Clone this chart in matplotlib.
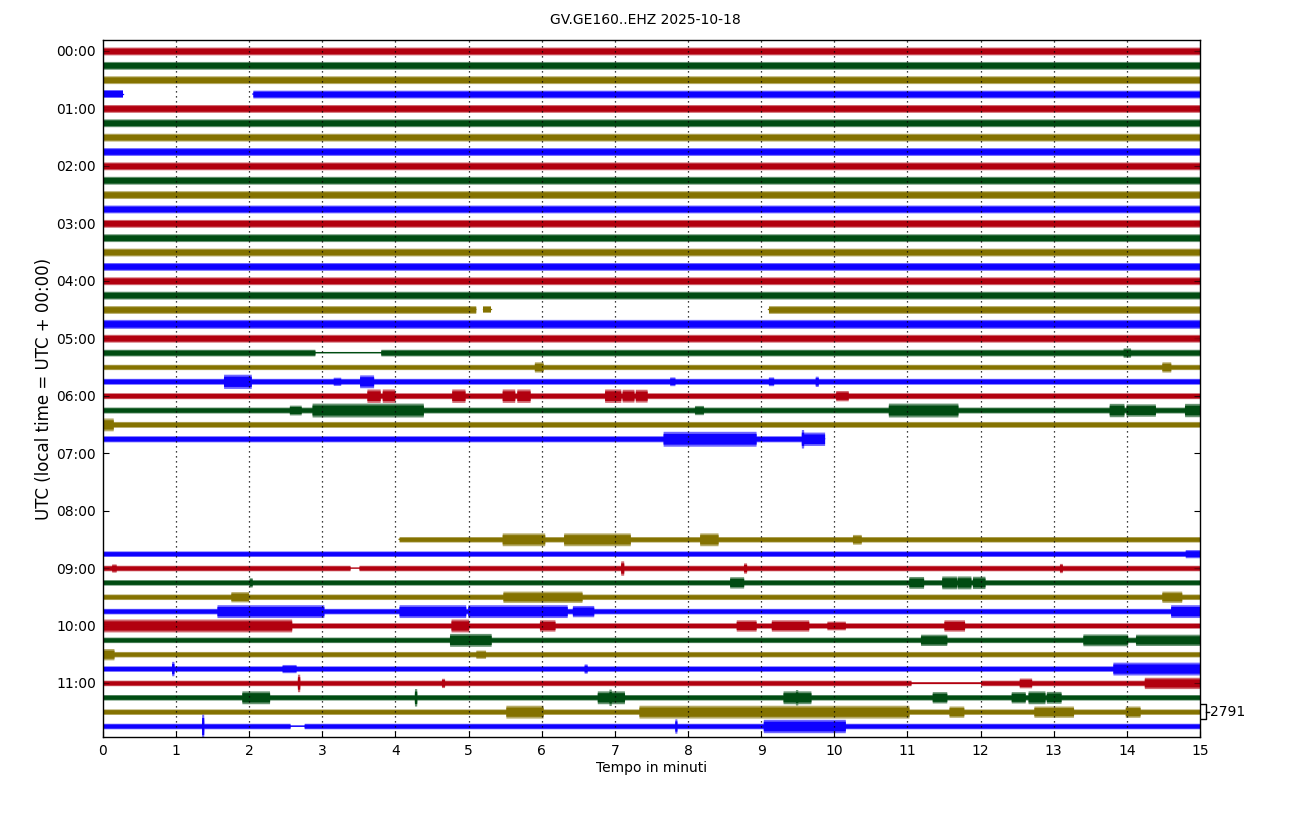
import matplotlib
matplotlib.use("Agg")
import matplotlib.pyplot as plt
import numpy as np

# helicorder GV.GE160..EHZ, 48 rows of 15 minutes, amplitudes in counts (half range)
title = "GV.GE160..EHZ 2025-10-18"
scale_counts = 2791  # one row spacing
colors = ['#B2000F', '#004C12', '#847200', '#0E01FF']
hour_labels = ["%02d:00" % h for h in range(12)]

base_amp = ([760] * 19 + [870, 760, 650, 520]
            + [580] * 4 + [600] + [0] * 6 + [540] * 14)

# rows with gaps: (start, end) minutes with data
segments = {
    3: [(0, 0.27), (2.05, 15)],
    18: [(0, 5.1), (5.2, 5.3), (9.1, 15)],
    27: [(0, 9.87)],
    28: [], 29: [], 30: [], 31: [], 32: [], 33: [],
    34: [(4.05, 15)],
}

# stretches with nearly flat signal
quiet = [(21, 2.9, 3.8, 25), (36, 3.38, 3.5, 40), (44, 11.05, 12.0, 150),
         (47, 2.56, 2.75, 80)]

# bursts: row, start, end, amplitude
bursts = [
    (21, 13.95, 14.05, 900),
    (22, 5.9, 6.02, 1000), (22, 14.48, 14.6, 1000),
    (23, 1.65, 2.03, 1380), (23, 3.51, 3.70, 1250), (23, 3.15, 3.25, 800),
    (23, 7.75, 7.82, 850), (23, 9.1, 9.17, 850), (23, 9.74, 9.78, 1000),
    (24, 3.61, 3.79, 1300), (24, 3.82, 3.99, 1300), (24, 4.77, 4.95, 1300),
    (24, 5.46, 5.63, 1300), (24, 5.66, 5.84, 1300), (24, 6.86, 7.08, 1300),
    (24, 7.10, 7.26, 1250), (24, 7.28, 7.44, 1250), (24, 10.02, 10.19, 1000),
    (25, 2.55, 2.71, 950), (25, 2.86, 4.38, 1350), (25, 8.09, 8.21, 900),
    (25, 10.74, 11.69, 1350), (25, 13.76, 13.96, 1300), (25, 13.99, 14.39, 1200),
    (25, 14.79, 15, 1300),
    (26, 0, 0.14, 1250),
    (27, 7.66, 8.93, 1450), (27, 9.55, 9.87, 1300), (27, 9.55, 9.58, 1800),
    (34, 5.46, 6.04, 1250), (34, 6.30, 7.21, 1250), (34, 8.16, 8.41, 1250),
    (34, 10.25, 10.37, 950),
    (35, 14.8, 15, 800),
    (36, 7.08, 7.12, 1400), (36, 8.76, 8.8, 1000), (36, 13.08, 13.12, 900),
    (36, 0.12, 0.18, 800),
    (37, 2.0, 2.04, 900), (37, 8.57, 8.76, 1100), (37, 11.02, 11.22, 1150),
    (37, 11.47, 11.67, 1250), (37, 11.68, 11.87, 1250), (37, 11.89, 12.06, 1200),
    (38, 1.75, 1.99, 1000), (38, 5.47, 6.55, 1100), (38, 14.48, 14.75, 1100),
    (39, 1.56, 3.02, 1250), (39, 4.05, 4.96, 1250), (39, 4.99, 6.35, 1250),
    (39, 6.42, 6.71, 1100), (39, 14.6, 15, 1250),
    (40, 0, 2.58, 1250), (40, 4.76, 5.0, 1250), (40, 5.97, 6.18, 1100),
    (40, 8.66, 8.93, 1100), (40, 9.14, 9.65, 1100), (40, 9.9, 10.15, 850),
    (40, 11.5, 11.78, 1100),
    (41, 4.74, 5.31, 1250), (41, 11.18, 11.54, 1100), (41, 13.4, 14.01, 1150),
    (41, 14.12, 15, 1100),
    (42, 0, 0.15, 1100), (42, 5.1, 5.23, 800),
    (43, 0.94, 0.97, 1400), (43, 2.45, 2.64, 800), (43, 6.58, 6.62, 900),
    (43, 13.81, 15, 1250),
    (44, 2.66, 2.69, 1700), (44, 4.63, 4.67, 900), (44, 12.53, 12.7, 950),
    (44, 14.24, 15, 1100),
    (45, 1.9, 2.28, 1250), (45, 6.76, 7.13, 1250), (45, 6.92, 6.95, 1600),
    (45, 4.26, 4.29, 1700), (45, 9.3, 9.68, 1250), (45, 9.47, 9.5, 1500),
    (45, 11.34, 11.54, 1100), (45, 12.42, 12.61, 1100), (45, 12.65, 12.88, 1250),
    (45, 12.9, 13.1, 1150),
    (46, 5.51, 6.02, 1250), (46, 7.33, 11.02, 1250), (46, 11.57, 11.77, 1100),
    (46, 12.73, 13.27, 1100), (46, 13.98, 14.18, 1100),
    (47, 1.35, 1.38, 2300), (47, 7.82, 7.85, 1400), (47, 9.03, 10.15, 1300),
]

fig = plt.figure(figsize=(12.9, 8.19), dpi=100)
ax = fig.add_axes([0.0798, 0.1001, 0.8504, 0.8511])

t = np.linspace(0, 15, 6001)
for row in range(48):
    segs = segments.get(row, [(0, 15)])
    if not segs:
        continue
    env = np.full_like(t, float(base_amp[row]))
    for r, a, b, amp in quiet:
        if r == row:
            env[(t >= a) & (t <= b)] = amp
    for r, a, b, amp in bursts:
        if r == row:
            m = (t >= a) & (t <= b)
            env[m] = np.maximum(env[m], amp)
    c = colors[row % 4]
    env = env / scale_counts
    for a, b in segs:
        m = (t >= a) & (t <= b)
        ax.fill_between(t[m], row - env[m], row + env[m], color=c,
                        alpha=0.6, lw=0)
        ax.fill_between(t[m], row - 0.72 * env[m], row + 0.72 * env[m],
                        color=c, lw=0)
        ax.plot(t[m], np.full(m.sum(), row), color=c, lw=0.9)

ax.set_xlim(0, 15)
ax.set_ylim(47.766, -0.766)
ax.set_xticks(range(16))
ax.set_yticks(range(0, 48, 4))
ax.set_yticklabels(hour_labels)
ax.tick_params(direction='in', length=4, labelsize=10, right=True,
               top=False, pad=5)
for x in range(1, 15):
    ax.axvline(x, color='k', ls=(0, (1, 3)), lw=0.9)
for s in ax.spines.values():
    s.set_linewidth(1.0)

ax.set_xlabel("Tempo in minuti", fontsize=10, labelpad=2)
ax.set_ylabel("UTC (local time = UTC + 00:00)", fontsize=12, labelpad=2)
fig.text(0.5, 0.9756, title, ha='center', va='center', fontsize=10)

# scale bracket
y0 = 46
ax.plot([15.01, 15.08, 15.08, 15.01], [y0 - 0.5, y0 - 0.5, y0 + 0.5, y0 + 0.5],
        color='k', lw=1, clip_on=False)
ax.plot([15.08, 15.13], [y0, y0], color='k', lw=1, clip_on=False)
ax.text(15.14, y0, str(scale_counts), va='center', ha='left', fontsize=10)

fig.savefig("out.png", dpi=100)
